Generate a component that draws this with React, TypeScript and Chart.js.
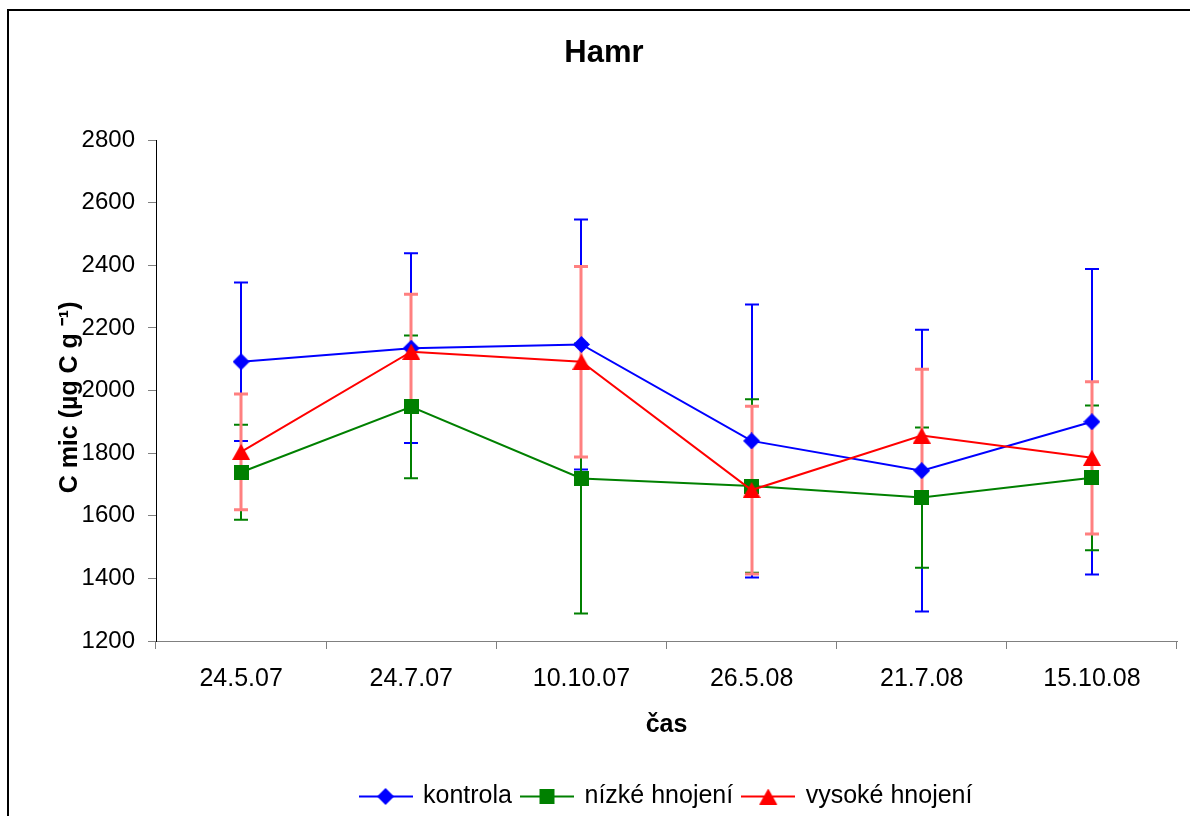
import React, { useEffect, useRef } from 'react';
import { Chart, registerables } from 'chart.js';

Chart.register(...registerables);

const categories = ['24.5.07', '24.7.07', '10.10.07', '26.5.08', '21.7.08', '15.10.08'];
const seriesNames = ['kontrola', 'nízké hnojení', 'vysoké hnojení'];
const kontrola = [2092, 2135, 2147, 1839, 1744, 1900];
const kontrolaErr = [253, 303, 399, 436, 450, 488];
const nizke = [1739, 1948, 1719, 1695, 1658, 1721];
const nizkeErr = [152, 228, 431, 277, 224, 231];
const vysoke = [1804, 2124, 2092, 1682, 1856, 1785];
const vysokeErr = [185, 183, 304, 268, 212, 243];
const yMin = 1200;
const yMax = 2800;
const yStep = 200;
const chartTitle = 'Hamr';
const xTitle = 'čas';
const yTitle = 'C mic (µg C g ⁻¹)\u00A0\u00A0';

const FONT = "'Liberation Sans', Arial, sans-serif";

function drawShape(ctx: CanvasRenderingContext2D, shape: string, cx: number, cy: number, w: number, h: number) {
  ctx.beginPath();
  if (shape === 'diamond') {
    ctx.moveTo(cx, cy - h / 2);
    ctx.lineTo(cx + w / 2, cy);
    ctx.lineTo(cx, cy + h / 2);
    ctx.lineTo(cx - w / 2, cy);
  } else if (shape === 'square') {
    ctx.rect(cx - w / 2, cy - h / 2, w, h);
  } else {
    ctx.moveTo(cx, cy - h / 2);
    ctx.lineTo(cx + w / 2, cy + h / 2);
    ctx.lineTo(cx - w / 2, cy + h / 2);
  }
  ctx.closePath();
  ctx.fill();
}

function makeMarker(shape: string, color: string, w: number, h: number) {
  const c = document.createElement('canvas');
  c.width = w;
  c.height = h;
  const ctx = c.getContext('2d')!;
  ctx.fillStyle = color;
  drawShape(ctx, shape, w / 2, h / 2, w, h);
  return c;
}

function makeLegendIcon(shape: string, color: string, lineW: number, w: number, h: number) {
  const c = document.createElement('canvas');
  c.width = lineW;
  c.height = h;
  const ctx = c.getContext('2d')!;
  ctx.strokeStyle = color;
  ctx.lineWidth = 2;
  ctx.beginPath();
  ctx.moveTo(0, h / 2);
  ctx.lineTo(lineW, h / 2);
  ctx.stroke();
  ctx.fillStyle = color;
  drawShape(ctx, shape, lineW / 2, h / 2, w, h);
  return c;
}

export default function App() {
  const ref = useRef<HTMLCanvasElement>(null);

  useEffect(() => {
    const canvas = ref.current;
    if (!canvas) return;
    const colors = ['#0000FF', '#008000', '#FF0000'];
    const errColors = ['#0000FF', '#008000', '#FF8080'];
    const errWidths = [2, 2, 3];
    const values = [kontrola, nizke, vysoke];
    const errors = [kontrolaErr, nizkeErr, vysokeErr];
    const shapes = ['diamond', 'square', 'triangle'];
    const sizes = [[17, 17], [15, 15], [18, 16]];
    const markers = shapes.map((s, i) => makeMarker(s, colors[i], sizes[i][0], sizes[i][1]));
    const icons = shapes.map((s, i) => makeLegendIcon(s, colors[i], 54, sizes[i][0], sizes[i][1]));

    const errorBars = {
      id: 'errorBars',
      beforeDatasetsDraw(chart: any) {
        const { ctx } = chart;
        const x = chart.scales.x;
        const y = chart.scales.y;
        values.forEach((vals, i) => {
          ctx.save();
          ctx.strokeStyle = errColors[i];
          ctx.lineWidth = errWidths[i];
          vals.forEach((v, j) => {
            const px = Math.round(x.getPixelForValue(j));
            const top = y.getPixelForValue(v + errors[i][j]);
            const bot = y.getPixelForValue(v - errors[i][j]);
            ctx.beginPath();
            ctx.moveTo(px, top);
            ctx.lineTo(px, bot);
            ctx.moveTo(px - 7, top);
            ctx.lineTo(px + 7, top);
            ctx.moveTo(px - 7, bot);
            ctx.lineTo(px + 7, bot);
            ctx.stroke();
          });
          ctx.restore();
        });
      },
    };

    const frameAndTitle = {
      id: 'frameAndTitle',
      afterDraw(chart: any) {
        const { ctx, width, height } = chart;
        ctx.save();
        ctx.strokeStyle = '#000';
        ctx.lineWidth = 2;
        ctx.beginPath();
        ctx.moveTo(1, height + 5);
        ctx.lineTo(1, 1);
        ctx.lineTo(width + 5, 1);
        ctx.stroke();
        ctx.fillStyle = '#000';
        ctx.font = `bold 31px ${FONT}`;
        ctx.textAlign = 'center';
        ctx.textBaseline = 'middle';
        ctx.fillText(chartTitle, 597, 44);
        ctx.restore();
      },
    };

    const chart = new Chart(canvas, {
      type: 'line',
      data: {
        labels: categories,
        datasets: seriesNames.map((name, i) => ({
          label: name,
          data: values[i],
          borderColor: colors[i],
          backgroundColor: colors[i],
          borderWidth: 2,
          pointStyle: markers[i] as any,
          pointRadius: 8,
          pointHoverRadius: 8,
          tension: 0,
          order: 3 - i,
          clip: false as any,
        })),
      },
      options: {
        responsive: false,
        animation: false,
        events: [],
        layout: { padding: { left: 0, right: 24, top: 131, bottom: 0 } },
        plugins: {
          title: { display: false },
          legend: {
            position: 'bottom',
            fullSize: false,
            labels: {
              usePointStyle: true,
              pointStyleWidth: 50,
              color: '#000',
              font: { family: FONT, size: 25 },
              padding: 10,
              sort: (a: any, b: any) => a.datasetIndex - b.datasetIndex,
              generateLabels: (c: any) => {
                const items = (Chart.defaults.plugins.legend.labels as any).generateLabels(c);
                return items.map((it: any) => ({ ...it, pointStyle: icons[it.datasetIndex] }));
              },
            },
          },
          tooltip: { enabled: false },
        },
        scales: {
          x: {
            type: 'category',
            offset: true,
            grid: {
              offset: true,
              drawOnChartArea: false,
              drawTicks: true,
              tickLength: 8,
              color: '#808080',
            },
            border: { display: true, color: '#808080', width: 1 },
            ticks: {
              color: '#000',
              font: { family: FONT, size: 25 },
              padding: 15,
              maxRotation: 0,
              autoSkip: false,
            },
            title: {
              display: true,
              text: xTitle,
              color: '#000',
              font: { family: FONT, size: 25, weight: 'bold' },
              padding: { top: 0, bottom: 34 },
            },
            afterFit: (s: any) => {
              s.height = 133;
            },
          },
          y: {
            type: 'linear',
            min: yMin,
            max: yMax,
            grid: {
              drawOnChartArea: false,
              drawTicks: true,
              tickLength: 8,
              color: '#808080',
            },
            border: { display: true, color: '#000', width: 1 },
            ticks: {
              stepSize: yStep,
              color: '#000',
              font: { family: FONT, size: 24 },
              padding: 13,
              callback: (v: any) => String(v),
            },
            title: {
              display: true,
              text: yTitle,
              color: '#000',
              font: { family: FONT, size: 25, weight: 'bold' },
              padding: { top: 48, bottom: 0 },
            },
            afterFit: (s: any) => {
              s.width = 149;
            },
          },
        },
      } as any,
      plugins: [errorBars, frameAndTitle],
    });
    return () => chart.destroy();
  }, []);

  return (
    <div style={{ position: 'absolute', left: 7, top: 9, width: 1183, height: 807, overflow: 'hidden' }}>
      <canvas ref={ref} width={1194} height={810} style={{ display: 'block' }} />
    </div>
  );
}
